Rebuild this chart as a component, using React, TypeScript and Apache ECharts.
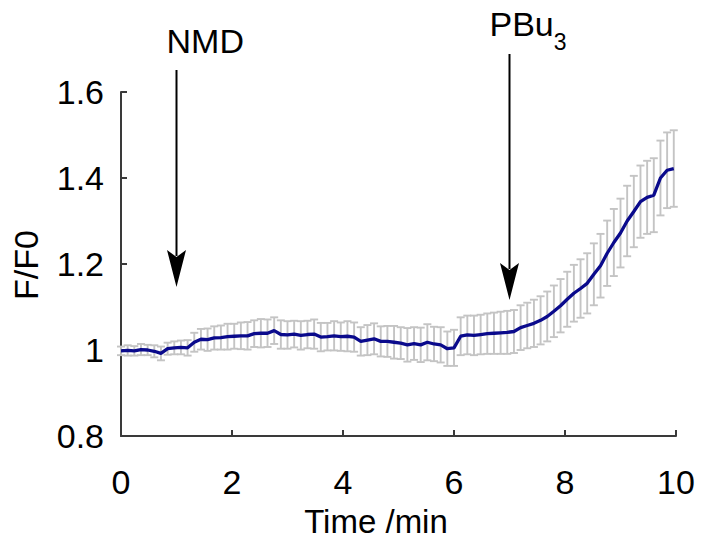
import React, { useEffect, useRef } from 'react';
import * as echarts from 'echarts';

// Sampling interval of the recording (minutes)
const SAMPLE_INTERVAL_MIN = 0.12;

// Mean F/F0 trace, one value per sample (t = 0, 0.12, 0.24, ... 9.96 min)
const MEAN_F_F0 = [
  0.998, 0.999, 0.998, 1.001, 1.0, 0.997, 0.992, 1.003, 1.005, 1.006,
  1.005, 1.018, 1.025, 1.024, 1.028, 1.029, 1.031, 1.032, 1.033, 1.033,
  1.038, 1.039, 1.039, 1.045, 1.036, 1.035, 1.037, 1.034, 1.036, 1.037,
  1.03, 1.031, 1.033, 1.031, 1.032, 1.03, 1.02, 1.023, 1.026, 1.02,
  1.02, 1.018, 1.016, 1.012, 1.015, 1.012, 1.018, 1.014, 1.012, 1.003,
  1.005, 1.032, 1.035, 1.034, 1.036, 1.038, 1.039, 1.04, 1.041, 1.043,
  1.052, 1.057, 1.062, 1.069, 1.078, 1.09, 1.103, 1.118, 1.132, 1.143,
  1.155, 1.176, 1.196, 1.225, 1.25, 1.272, 1.3, 1.322, 1.345, 1.355,
  1.36, 1.4, 1.418, 1.422,
];

// Standard deviation for each sample (error bars)
const SD_F_F0 = [
  0.01, 0.012, 0.011, 0.013, 0.012, 0.014, 0.016, 0.014, 0.015, 0.016,
  0.018, 0.022, 0.024, 0.026, 0.027, 0.028, 0.03, 0.029, 0.031, 0.032,
  0.031, 0.033, 0.032, 0.031, 0.033, 0.032, 0.031, 0.033, 0.032, 0.034,
  0.033, 0.032, 0.034, 0.033, 0.035, 0.034, 0.033, 0.035, 0.036, 0.035,
  0.036, 0.038, 0.037, 0.039, 0.038, 0.04, 0.042, 0.04, 0.041, 0.04,
  0.042, 0.044, 0.045, 0.046, 0.046, 0.047, 0.048, 0.049, 0.05, 0.05,
  0.052, 0.053, 0.055, 0.056, 0.058, 0.06, 0.062, 0.064, 0.066, 0.068,
  0.07, 0.072, 0.074, 0.076, 0.078, 0.08, 0.082, 0.083, 0.084, 0.085,
  0.086, 0.087, 0.088, 0.089,
];

// Axis ranges
const X_RANGE = [0, 10];
const X_INTERVAL = 2;
const Y_RANGE = [0.8, 1.6];
const Y_INTERVAL = 0.2;

// Drug additions (time in min)
const EVENT_LABELS = ['NMD', 'PBu3'];
const EVENT_TIMES = [1, 7];

const FONT = '"Liberation Sans", Arial, Helvetica, sans-serif';
const AXIS_COLOR = '#3a3a3a';
const LINE_COLOR = '#0a0a8c';
const ERR_COLOR = '#c4c4c4';

// Arrow layout (pixels): line top, arrow tip, label left offset, label centre y
const ARROW_LAYOUT = [
  { top: 70, tip: 287, labelDx: -10, labelY: 41 },
  { top: 54, tip: 300, labelDx: -20, labelY: 30 },
];

export default function App() {
  const ref = useRef<HTMLDivElement>(null);

  useEffect(() => {
    if (!ref.current) return;
    const chart = echarts.init(ref.current, undefined, { renderer: 'svg' });

    const times = MEAN_F_F0.map((_, i) => +(i * SAMPLE_INTERVAL_MIN).toFixed(2));
    const lineData = MEAN_F_F0.map((v, i) => [times[i], v]);
    const errData = MEAN_F_F0.map((v, i) => [times[i], v - SD_F_F0[i], v + SD_F_F0[i]]);

    chart.setOption({
      animation: false,
      backgroundColor: '#ffffff',
      grid: { left: 121, right: 36, top: 92, bottom: 104, containLabel: false },
      xAxis: {
        type: 'value',
        min: X_RANGE[0],
        max: X_RANGE[1],
        interval: X_INTERVAL,
        axisLine: { show: true, lineStyle: { color: AXIS_COLOR, width: 2 } },
        axisTick: { show: true, inside: true, length: 6, lineStyle: { color: AXIS_COLOR, width: 2 } },
        axisLabel: { color: '#000', fontSize: 34, fontFamily: FONT, margin: 29 },
        splitLine: { show: false },
      },
      yAxis: {
        type: 'value',
        min: Y_RANGE[0],
        max: Y_RANGE[1],
        interval: Y_INTERVAL,
        axisLine: { show: true, lineStyle: { color: AXIS_COLOR, width: 2 } },
        axisTick: { show: true, inside: true, length: 6, lineStyle: { color: AXIS_COLOR, width: 2 } },
        axisLabel: {
          color: '#000',
          fontSize: 34,
          fontFamily: FONT,
          margin: 17,
          formatter: (v: number) => (Math.abs(v - 1) < 1e-9 ? '1' : (Math.round(v * 10) / 10).toFixed(1)),
        },
        splitLine: { show: false },
      },
      series: [
        {
          type: 'custom',
          name: 'SD',
          data: errData,
          encode: { x: 0, y: [1, 2] },
          z: 1,
          renderItem: (params: any, api: any) => {
            const t = api.value(0);
            const lo = api.value(1);
            const hi = api.value(2);
            const pTop = api.coord([t, hi]);
            const pBot = api.coord([t, lo]);
            const cap = 4;
            const style = { stroke: ERR_COLOR, lineWidth: 1.9 };
            return {
              type: 'group',
              children: [
                { type: 'line', shape: { x1: pTop[0], y1: pTop[1], x2: pBot[0], y2: pBot[1] }, style },
                { type: 'line', shape: { x1: pTop[0] - cap, y1: pTop[1], x2: pTop[0] + cap, y2: pTop[1] }, style },
                { type: 'line', shape: { x1: pBot[0] - cap, y1: pBot[1], x2: pBot[0] + cap, y2: pBot[1] }, style },
              ],
            };
          },
        },
        {
          type: 'line',
          name: 'F/F0',
          data: lineData,
          showSymbol: false,
          symbol: 'none',
          z: 5,
          lineStyle: { color: LINE_COLOR, width: 3.3 },
        },
      ],
    });

    const graphics: any[] = [];
    EVENT_TIMES.forEach((t, i) => {
      const x = chart.convertToPixel({ xAxisIndex: 0 }, t) as number;
      const L = ARROW_LAYOUT[i];
      const headLen = 37;
      const headHalf = 9.5;
      graphics.push({
        type: 'line',
        shape: { x1: x, y1: L.top, x2: x, y2: L.tip - headLen + 6 },
        style: { stroke: '#000', lineWidth: 2 },
      });
      graphics.push({
        type: 'polygon',
        shape: {
          points: [
            [x - headHalf, L.tip - headLen],
            [x, L.tip - headLen + 7],
            [x + headHalf, L.tip - headLen],
            [x, L.tip],
          ],
        },
        style: { fill: '#000' },
      });
      const label = EVENT_LABELS[i];
      const m = label.match(/^(.*?)(\d+)$/);
      if (m) {
        graphics.push({
          type: 'text',
          x: x + L.labelDx,
          y: L.labelY - 23,
          style: {
            text: `{m|${m[1]}}{s|${m[2]}}`,
            rich: {
              m: { fontSize: 34, fontFamily: FONT, fill: '#000', lineHeight: 46, verticalAlign: 'top' },
              s: { fontSize: 23, fontFamily: FONT, fill: '#000', lineHeight: 26, verticalAlign: 'bottom' },
            },
            align: 'left',
            verticalAlign: 'top',
          },
        });
      } else {
        graphics.push({
          type: 'text',
          x: x + L.labelDx,
          y: L.labelY,
          style: {
            text: label,
            fontSize: 34,
            fontFamily: FONT,
            fill: '#000',
            align: 'left',
            verticalAlign: 'middle',
          },
        });
      }
    });

    // Axis titles
    graphics.push({
      type: 'text',
      x: 376,
      y: 521,
      style: {
        text: 'Time /min',
        fontSize: 33,
        lineHeight: 30,
        fontFamily: FONT,
        fill: '#000',
        align: 'center',
        verticalAlign: 'middle',
      },
    });
    graphics.push({
      type: 'text',
      x: 26,
      y: 265,
      rotation: Math.PI / 2,
      style: { text: 'F/F0', fontSize: 34, fontFamily: FONT, fill: '#000', align: 'center', verticalAlign: 'middle' },
    });

    chart.setOption({ graphic: graphics });

    return () => chart.dispose();
  }, []);

  return (
    <div
      ref={ref}
      style={{ position: 'fixed', left: 0, top: 0, width: 712, height: 540, background: '#fff' }}
    />
  );
}
